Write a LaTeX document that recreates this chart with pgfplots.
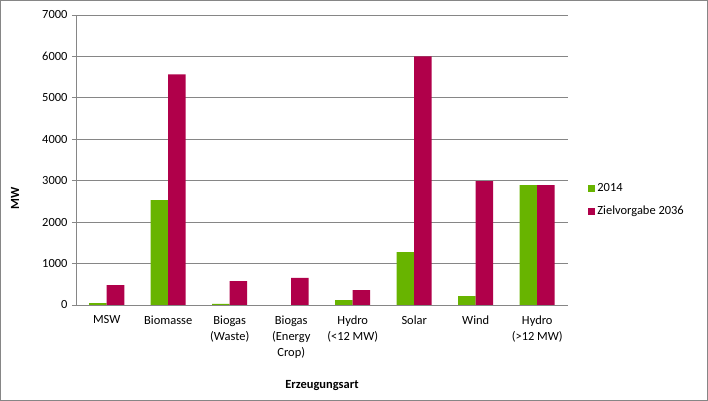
\documentclass[border=0pt]{standalone}
\usepackage{pgfplots}
\pgfplotsset{compat=1.18}
\usepackage{fontspec}
\setmainfont{Carlito}
\definecolor{cgreen}{RGB}{104,180,0}
\definecolor{cred}{RGB}{176,0,74}
\definecolor{cgrid}{RGB}{134,134,134}
\begin{document}
\begin{tikzpicture}
\path[use as bounding box] (0,0) rectangle (708bp,401bp);
\draw[cgrid, line width=1bp] (0.5bp,0.5bp) rectangle (707.5bp,400.5bp);
\begin{axis}[
  at={(76bp,96bp)}, anchor=south west,
  scale only axis, width=492bp, height=290bp,
  font=\fontsize{12.5}{15}\selectfont,
  /pgf/number format/assume math mode=true,
  ybar=0pt, bar width=17.5bp,
  xmin=-0.5, xmax=7.5, ymin=0, ymax=7000,
  ytick={0,1000,...,7000},
  yticklabel style={/pgf/number format/1000 sep={}, xshift=-1bp},
  xtick={0,...,7},
  xticklabels={MSW,Biomasse,Biogas\\(Waste),Biogas\\(Energy\\Crop),Hydro\\(<12 MW),Solar,Wind,Hydro\\(>12 MW)},
  xticklabel style={align=center, font=\fontsize{12.5}{16.5}\selectfont, yshift=-3bp},
  major x tick style={draw=none},
  ytick style={cgrid, line width=0.8bp},
  tick align=outside, major tick length=4bp,
  axis x line*=bottom, axis y line*=left,
  axis line style={cgrid, line width=0.8bp, -},
  ymajorgrids, grid style={cgrid, line width=0.8bp},
  ylabel={\bfseries MW},
  ylabel style={at={(rel axis cs:-0.124,0.369)}, anchor=center},
  xlabel={\bfseries Erzeugungsart},
  xlabel style={at={(rel axis cs:0.5,-0.276)}, anchor=center},
  legend style={draw=none, at={(1.035,0.362)}, anchor=west, font=\fontsize{12.5}{15}\selectfont, row sep=9bp, fill=none},
  legend cell align=left,
  legend image code/.code={\fill (0bp,-3.5bp) rectangle (7bp,3.5bp);},
]
\addplot[fill=cgreen, draw=none] coordinates {(0,48) (1,2530) (2,25) (3,0) (4,120) (5,1278) (6,217) (7,2895)};
\addplot[fill=cred, draw=none] coordinates {(0,482) (1,5568) (2,578) (3,655) (4,362) (5,6000) (6,2990) (7,2895)};
\legend{2014,Zielvorgabe 2036}
\end{axis}
\end{tikzpicture}
\end{document}
